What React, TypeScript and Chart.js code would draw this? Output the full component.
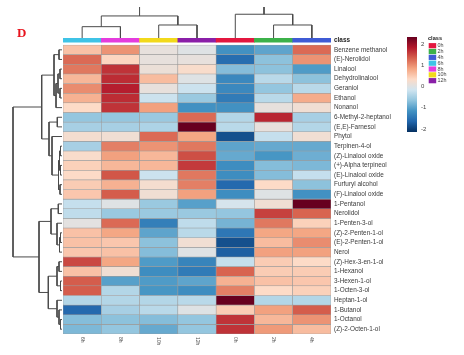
import React, { useEffect, useRef } from "react";
import { Chart, registerables } from "chart.js";

Chart.register(...registerables);

// ---------- data ----------
const columns = ["6h", "8h", "10h", "12h", "0h", "2h", "4h"];
const columnClassColors = ["#3FC3E6", "#E43CDD", "#F2D91B", "#8A1FA8", "#E3173F", "#3CB14A", "#3F5BD5"];
const legendClasses = ["0h", "2h", "4h", "6h", "8h", "10h", "12h"];
const legendClassColors = ["#E3173F", "#3CB14A", "#3F5BD5", "#3FC3E6", "#E43CDD", "#F2D91B", "#8A1FA8"];

const compounds = [
  "Benzene methanol",
  "(E)-Nerolidol",
  "Linalool",
  "Dehydrolinalool",
  "Geraniol",
  "Ethanol",
  "Nonanol",
  "6-Methyl-2-heptanol",
  "(E,E)-Farnesol",
  "Phytol",
  "Terpinen-4-ol",
  "(Z)-Linalool oxide",
  "(+)-Alpha terpineol",
  "(E)-Linalool oxide",
  "Furfuryl alcohol",
  "(F)-Linalool oxide",
  "1-Pentanol",
  "Nerolidol",
  "1-Penten-3-ol",
  "(Z)-2-Penten-1-ol",
  "(E)-2-Penten-1-ol",
  "Nerol",
  "(Z)-Hex-3-en-1-ol",
  "1-Hexanol",
  "3-Hexen-1-ol",
  "1-Octen-3-ol",
  "Heptan-1-ol",
  "1-Butanol",
  "1-Octanol",
  "(Z)-2-Octen-1-ol",
];

// columns order: 6h, 8h, 10h, 12h, 0h, 2h, 4h
const values: number[][] = [
  [0.5, 0.9, 0.0, -0.1, -1.3, -1.1, 1.2],
  [1.2, 0.3, 0.0, 0.0, -1.7, -0.8, 0.9],
  [1.1, 1.6, 0.05, 0.2, -0.85, -0.8, -1.2],
  [0.6, 1.65, 0.55, -0.1, -1.4, -0.45, -0.8],
  [0.95, 1.75, 0.0, -0.3, -1.4, -0.75, -0.45],
  [0.65, 1.65, -0.3, -0.7, -1.55, -0.45, 0.7],
  [0.25, 1.6, 0.8, -1.3, -1.3, 0.0, 0.1],
  [-0.75, -0.75, -0.7, 1.2, -0.5, 1.7, -0.6],
  [-0.6, -0.6, -0.55, 2.4, -0.45, 0.0, -0.5],
  [0.15, 0.1, 1.2, 0.75, -2.0, -0.35, 0.1],
  [-0.6, 1.05, 0.9, 1.1, -1.1, -1.05, -1.05],
  [0.2, 0.8, 0.6, 1.4, -1.05, -1.25, -1.0],
  [0.35, 0.6, 0.6, 1.55, -1.35, -0.85, -0.9],
  [0.25, 1.35, -0.3, 1.1, -1.35, -0.85, -0.35],
  [0.4, 0.65, 0.15, 1.05, -1.75, 0.25, -0.8],
  [0.45, 1.3, 0.1, 0.8, -1.35, -0.1, -1.3],
  [-0.35, -0.1, -0.7, -1.15, -0.2, 0.1, 2.3],
  [-0.4, -0.7, -0.7, -0.7, -0.75, 1.5, 1.25],
  [-0.05, 1.2, -1.5, -0.4, -0.95, 1.1, 0.35],
  [0.5, 0.75, -1.1, -0.45, -1.6, 0.75, 0.75],
  [0.5, 0.45, -0.8, 0.1, -2.0, 0.55, 0.95],
  [0.45, 0.5, -0.85, -0.1, -1.85, 0.8, 0.8],
  [1.45, 0.75, -1.2, -1.45, -0.35, 0.4, 0.25],
  [0.5, 0.1, -1.35, -1.55, 1.25, 0.4, 0.4],
  [1.3, -1.15, -1.2, -1.1, 0.65, 0.5, 0.45],
  [1.3, -0.5, -1.25, -1.35, 1.05, 0.25, 0.35],
  [-0.5, -0.5, -0.5, -0.45, 2.4, -0.5, -0.5],
  [-1.75, -0.6, -0.45, -0.1, 0.4, 0.8, 1.3],
  [-0.85, -0.8, -0.85, -0.75, 1.6, 0.6, 0.9],
  [-0.9, -0.75, -1.05, -0.75, 1.6, 0.85, 0.55],
];

const colorbarTicks = [2, 1, 0, -1, -2];

// dendrograms: [nodeA, nodeB, height]; leaves are 0..n-1, merge k creates node n+k
const colMerges: number[][] = [
  [0, 1, 1.0],
  [2, 3, 1.15],
  [5, 6, 1.15],
  [4, 9, 2.1],
  [7, 8, 1.95],
  [11, 10, 2.9],
];

const rowMerges: number[][] = [
  [0, 1, 3],
  [2, 3, 2],
  [4, 5, 2],
  [31, 32, 4],
  [33, 6, 6],
  [30, 34, 8],
  [7, 8, 4.7],
  [10, 11, 1.5],
  [12, 13, 1.5],
  [37, 38, 2.5],
  [14, 15, 2],
  [39, 40, 3.5],
  [9, 41, 10],
  [36, 42, 13],
  [35, 43, 20.3],
  [16, 17, 3.7],
  [19, 20, 1.5],
  [46, 21, 2.5],
  [18, 47, 5],
  [45, 48, 11],
  [22, 23, 3],
  [24, 25, 1.5],
  [50, 51, 5],
  [28, 29, 1.5],
  [27, 53, 3],
  [26, 54, 5],
  [52, 55, 13.7],
  [49, 56, 23],
  [44, 57, 49],
];

// ---------- styling helpers ----------
const palette = ["#053061", "#2166AC", "#4393C3", "#92C5DE", "#D1E5F0", "#FDDBC7", "#F4A582", "#D6604D", "#B2182B", "#67001F"];
const VMIN = -2.3;
const VMAX = 2.3;

function hexToRgb(h: string) {
  return [parseInt(h.slice(1, 3), 16), parseInt(h.slice(3, 5), 16), parseInt(h.slice(5, 7), 16)];
}
function valueColor(v: number) {
  const t = Math.max(0, Math.min(1, (v - VMIN) / (VMAX - VMIN))) * (palette.length - 1);
  const i = Math.min(palette.length - 2, Math.floor(t));
  const f = t - i;
  const a = hexToRgb(palette[i]);
  const b = hexToRgb(palette[i + 1]);
  const c = a.map((x, k) => Math.round(x + (b[k] - x) * f));
  return `rgb(${c[0]},${c[1]},${c[2]})`;
}

function dendroPaths(merges: number[][], nLeaves: number) {
  const pos: number[] = [];
  const ht: number[] = [];
  for (let i = 0; i < nLeaves; i++) {
    pos.push(i + 0.5);
    ht.push(0);
  }
  const paths: { p: number; h: number }[][] = [];
  merges.forEach(([a, b, h]) => {
    paths.push([
      { p: pos[a], h: ht[a] },
      { p: pos[a], h },
      { p: pos[b], h },
      { p: pos[b], h: ht[b] },
    ]);
    pos.push((pos[a] + pos[b]) / 2);
    ht.push(h);
  });
  return paths;
}

const SANS = '"Liberation Sans", Arial, sans-serif';
const CLASS_TOP = -0.727;
const CLASS_BOTTOM = -0.3;

const labelsPlugin = {
  id: "hmLabels",
  afterDraw(chart: any) {
    const { ctx, chartArea } = chart;
    const x = chart.scales.x;
    const y = chart.scales.y;
    ctx.save();
    // panel letter
    ctx.fillStyle = "#E8141E";
    ctx.font = 'bold 13px "Liberation Serif", "Times New Roman", serif';
    ctx.textBaseline = "alphabetic";
    ctx.textAlign = "left";
    ctx.fillText("D", 17, 37.3);

    // row labels
    ctx.fillStyle = "#3a3a3a";
    ctx.font = `6.4px ${SANS}`;
    ctx.textBaseline = "middle";
    compounds.forEach((c, i) => ctx.fillText(c, chartArea.right + 3, y.getPixelForValue(i + 0.5)));
    ctx.font = `bold 6.4px ${SANS}`;
    ctx.fillStyle = "#222";
    ctx.fillText("class", chartArea.right + 3, y.getPixelForValue((CLASS_TOP + CLASS_BOTTOM) / 2) + 0.5);

    // column labels (rotated)
    ctx.font = `5px ${SANS}`;
    ctx.fillStyle = "#555";
    columns.forEach((c, j) => {
      const px = x.getPixelForValue(j);
      ctx.save();
      ctx.translate(px, chartArea.bottom + 3);
      ctx.rotate(Math.PI / 2);
      ctx.textAlign = "left";
      ctx.textBaseline = "middle";
      ctx.fillText(c, 0, 0);
      ctx.restore();
    });

    // colour bar legend
    const cbX = 407, cbW = 10, cbTop = 37, cbBot = 132;
    const grad = ctx.createLinearGradient(0, cbTop, 0, cbBot);
    palette.slice().reverse().forEach((col, k) => grad.addColorStop(k / (palette.length - 1), col));
    ctx.fillStyle = grad;
    ctx.fillRect(cbX, cbTop, cbW, cbBot - cbTop);
    ctx.fillStyle = "#444";
    ctx.font = `6px ${SANS}`;
    ctx.textAlign = "left";
    ctx.textBaseline = "middle";
    const zeroY = 86.5, unit = 21.25;
    colorbarTicks.forEach((t) => ctx.fillText(String(t), 421, zeroY - t * unit));

    // class legend
    ctx.fillStyle = "#222";
    ctx.font = `bold 5.6px ${SANS}`;
    ctx.fillText("class", 428, 38.5);
    ctx.font = `5.4px ${SANS}`;
    legendClasses.forEach((c, k) => {
      const cy = 45.7 + k * 5.83;
      ctx.fillStyle = legendClassColors[k];
      ctx.fillRect(428.7, cy - 2.6, 7.5, 5.2);
      ctx.fillStyle = "#444";
      ctx.fillText(c, 437.5, cy);
    });
    ctx.restore();
  },
};

export default function App() {
  const hmRef = useRef<HTMLCanvasElement>(null);
  const colRef = useRef<HTMLCanvasElement>(null);
  const rowRef = useRef<HTMLCanvasElement>(null);

  useEffect(() => {
    const charts: Chart[] = [];

    // heatmap
    const hmDatasets: any[] = [
      {
        label: "class",
        data: columns.map(() => [CLASS_TOP, CLASS_BOTTOM]),
        backgroundColor: columnClassColors,
        borderWidth: 0,
      },
      ...compounds.map((name, i) => ({
        label: name,
        data: values[i].map(() => [i, i + 1]),
        backgroundColor: values[i].map(valueColor),
        borderColor: "#9c9c9c",
        borderWidth: 0.6,
        borderSkipped: false,
      })),
    ];
    charts.push(
      new Chart(hmRef.current!, {
        type: "bar",
        data: { labels: columns, datasets: hmDatasets },
        options: {
          responsive: false,
          animation: false,
          devicePixelRatio: 1,
          layout: { padding: { left: 63, top: 38, right: 133, bottom: 21 } },
          plugins: { legend: { display: false }, tooltip: { enabled: false } },
          datasets: { bar: { grouped: false, barPercentage: 1, categoryPercentage: 1 } } as any,
          scales: {
            x: { display: false },
            y: { type: "linear", display: false, reverse: true, min: CLASS_TOP, max: compounds.length },
          },
        },
        plugins: [labelsPlugin],
      })
    );

    const lineStyle = {
      showLine: true,
      pointRadius: 0,
      borderColor: "#4a4a4a",
      borderWidth: 1,
      tension: 0,
      fill: false,
    };

    // column dendrogram
    const colPaths = dendroPaths(colMerges, columns.length);
    charts.push(
      new Chart(colRef.current!, {
        type: "scatter",
        data: {
          datasets: colPaths.map((p) => ({ ...lineStyle, data: p.map((q) => ({ x: q.p, y: q.h })) })),
        },
        options: {
          responsive: false,
          animation: false,
          devicePixelRatio: 1,
          layout: { padding: 0 },
          plugins: { legend: { display: false }, tooltip: { enabled: false } },
          scales: {
            x: { type: "linear", display: false, min: 0, max: columns.length },
            y: { type: "linear", display: false, min: 0, max: 2.74 },
          },
        },
      })
    );

    // row dendrogram
    const rowPaths = dendroPaths(rowMerges, compounds.length);
    charts.push(
      new Chart(rowRef.current!, {
        type: "scatter",
        data: {
          datasets: rowPaths.map((p) => ({ ...lineStyle, data: p.map((q) => ({ x: q.h, y: q.p })) })),
        },
        options: {
          responsive: false,
          animation: false,
          devicePixelRatio: 1,
          layout: { padding: 0 },
          plugins: { legend: { display: false }, tooltip: { enabled: false } },
          scales: {
            x: { type: "linear", display: false, reverse: true, min: -1, max: 62 },
            y: { type: "linear", display: false, reverse: true, min: 0, max: compounds.length },
          },
        },
      })
    );

    return () => charts.forEach((c) => c.destroy());
  }, []);

  const abs = (l: number, t: number, w: number, h: number): React.CSSProperties => ({
    position: "absolute",
    left: l,
    top: t,
    width: w,
    height: h,
  });

  return (
    <div style={{ position: "absolute", left: 0, top: 0, width: 464, height: 355, background: "#fff" }}>
      <canvas ref={hmRef} width={464} height={355} style={abs(0, 0, 464, 355)} />
      <canvas ref={colRef} width={268} height={31} style={abs(63, 7, 268, 31)} />
      <canvas ref={rowRef} width={63} height={289} style={abs(0, 45, 63, 289)} />
    </div>
  );
}
